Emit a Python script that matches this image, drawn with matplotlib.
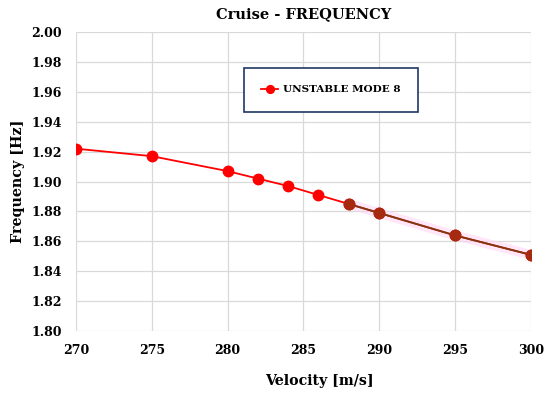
import numpy as np
import matplotlib.pyplot as plt

velocity = [270, 275, 280, 282, 284, 286, 288, 290, 295, 300]
frequency = [1.922, 1.917, 1.907, 1.902, 1.897, 1.891, 1.885, 1.879, 1.864, 1.851]
# tail of the curve where a second (brown) series overlaps
velocity_tail = [288, 290, 295, 300]
frequency_tail = [1.885, 1.879, 1.864, 1.851]

plt.rcParams['font.family'] = ['DejaVu Serif']
plt.rcParams['font.weight'] = 'bold'

fig = plt.figure(figsize=(5.5, 3.96), dpi=100)
ax = fig.add_axes([0.138, 0.164, 0.827, 0.755])

ax.plot(velocity, frequency, color='#ff0000', lw=1.3, marker='o', ms=7.5,
        label='UNSTABLE MODE 8', zorder=3)
ax.plot(velocity_tail, frequency_tail, color='#ffd6f4', lw=7, alpha=0.6, zorder=2)
ax.plot(velocity_tail, frequency_tail, color='#7b3a12', lw=1.3, zorder=4)
ax.plot(velocity_tail, frequency_tail, ls='none', marker='o', ms=7.5,
        color='#a52a10', zorder=5)

ax.set_xlim(270, 300)
ax.set_ylim(1.80, 2.00)
ax.set_xticks(np.arange(270, 301, 5))
ax.set_yticks(np.arange(1.80, 2.001, 0.02))
ax.set_yticklabels([f'{v:.2f}' for v in np.arange(1.80, 2.001, 0.02)])
ax.grid(True, color='#d9d9d9', lw=0.9)
ax.set_axisbelow(True)
for s in ax.spines.values():
    s.set_visible(False)
ax.tick_params(length=0, labelsize=9)
ax.tick_params(axis='x', pad=9)
ax.tick_params(axis='y', pad=10)

ax.set_title('Cruise - FREQUENCY', fontsize=10.5, fontweight='bold', pad=10)
ax.set_xlabel('Velocity [m/s]', fontsize=10.2, fontweight='bold')
ax.xaxis.set_label_coords(0.535, -0.145)
ax.set_ylabel('Frequency [Hz]', fontsize=10.3, fontweight='bold')
ax.yaxis.set_label_coords(-0.113, 0.5)

leg = ax.legend(loc='upper left', bbox_to_anchor=(0.37, 0.88), fancybox=False,
                fontsize=7.5, borderpad=1.65, handlelength=1.6, handletextpad=0.5,
                borderaxespad=0, markerscale=0.75)
leg.get_frame().set_edgecolor('#1f3864')
leg.get_frame().set_linewidth(1.2)
leg.get_frame().set_alpha(1)

fig.savefig('out.png', dpi=100)
